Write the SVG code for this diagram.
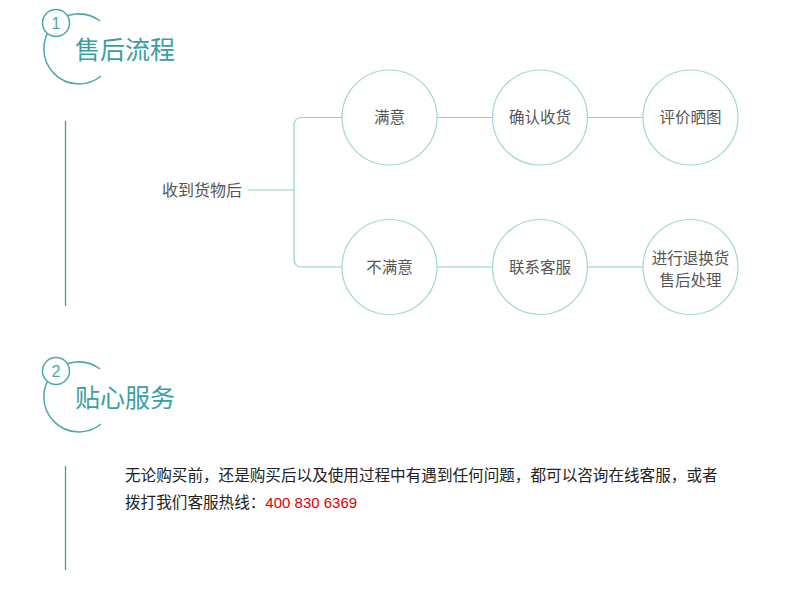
<svg xmlns="http://www.w3.org/2000/svg" width="790" height="591" viewBox="0 0 790 591">
<style>
.hd{fill:none;stroke:#4aa9ad;stroke-width:1.5}
.num{font-family:"Liberation Sans","Noto Sans",sans-serif;font-size:16px;fill:#4aa9ad;text-anchor:middle}
.title{font-family:"Noto Sans CJK SC",sans-serif;font-size:25px;fill:#3b9ea3}
.vl{stroke:#3f9e9e;stroke-width:1.3}
.node circle{fill:#fff;stroke:#9fd6d6;stroke-width:1.2}
.node text,.lbl{font-family:"Noto Sans CJK SC",sans-serif;font-size:15.5px;fill:#555;text-anchor:middle}
.conn{fill:none;stroke:#8fd3cc;stroke-width:1.2}
.body{font-family:"Noto Sans CJK SC",sans-serif;font-size:15.6px;fill:#222}
</style>
<rect width="790" height="591" fill="#fff"/>
<g id="header1">
<path class="hd" d="M 100 21 A 35 35 0 1 0 101 76"/>
<circle cx="56" cy="23" r="13.5" fill="#fff" stroke="#4aa9ad" stroke-width="1.5"/>
<text class="num" x="56" y="29">1</text>
<text class="title" x="75" y="59">售后流程</text>
</g>
<line class="vl" x1="65.5" y1="121" x2="65.5" y2="306"/>
<g id="connectors">
<line class="conn" x1="248" y1="190" x2="294" y2="190"/>
<path class="conn" d="M 342 117.5 H 302 Q 294 117.5 294 125.5 V 259 Q 294 267 302 267 H 342"/>
<line class="conn" x1="437" y1="117.5" x2="492" y2="117.5"/>
<line class="conn" x1="588" y1="117.5" x2="643" y2="117.5"/>
<line class="conn" x1="437" y1="267" x2="492" y2="267"/>
<line class="conn" x1="588" y1="267" x2="643" y2="267"/>
</g>
<text id="start" class="lbl" x="202" y="196" style="font-size:16px">收到货物后</text>
<g id="n1" class="node"><circle cx="389.5" cy="117.5" r="47.5"/><text x="389.5" y="123">满意</text></g>
<g id="n2" class="node"><circle cx="540" cy="117.5" r="47.5"/><text x="540" y="123">确认收货</text></g>
<g id="n3" class="node"><circle cx="690.5" cy="117.5" r="47.5"/><text x="690.5" y="123">评价晒图</text></g>
<g id="n4" class="node"><circle cx="389.5" cy="267" r="47.5"/><text x="389.5" y="273">不满意</text></g>
<g id="n5" class="node"><circle cx="540" cy="267" r="47.5"/><text x="540" y="273">联系客服</text></g>
<g id="n6" class="node"><circle cx="690.5" cy="267" r="47.5"/><text x="690.5" y="264">进行退换货</text><text x="690.5" y="286">售后处理</text></g>
<g id="header2">
<path class="hd" d="M 100 369 A 35 35 0 1 0 101 424"/>
<circle cx="56" cy="371" r="13.5" fill="#fff" stroke="#4aa9ad" stroke-width="1.5"/>
<text class="num" x="56" y="377">2</text>
<text class="title" x="75" y="407">贴心服务</text>
</g>
<line class="vl" x1="65.5" y1="466" x2="65.5" y2="570"/>
<text class="body" x="125" y="481">无论购买前，还是购买后以及使用过程中有遇到任何问题，都可以咨询在线客服，或者</text>
<text class="body" x="125" y="508">拨打我们客服热线：<tspan fill="#e00000" font-family="Liberation Sans, sans-serif" font-size="15">400 830 6369</tspan></text>
</svg>
